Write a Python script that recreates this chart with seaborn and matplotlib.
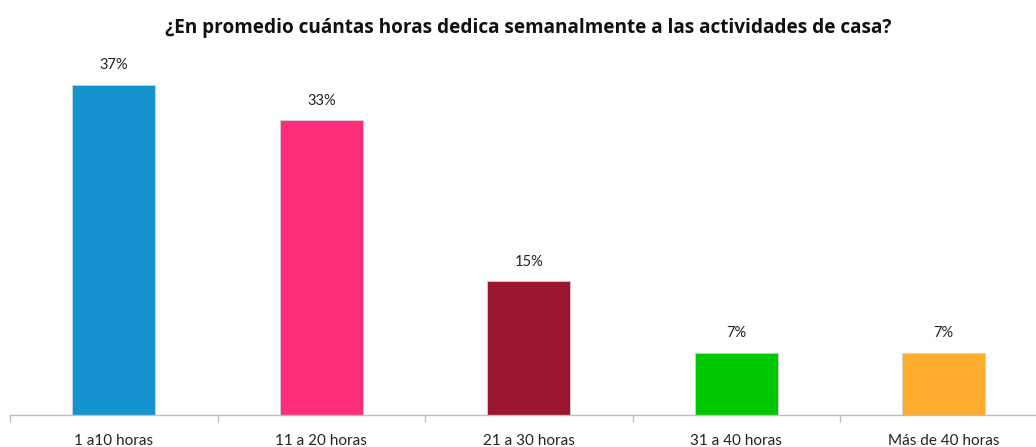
import matplotlib
matplotlib.use('Agg')
import matplotlib.pyplot as plt
import seaborn as sns
import pandas as pd

# Data

categories = ['1 a10 horas', '11 a 20 horas', '21 a 30 horas', '31 a 40 horas', 'Más de 40 horas']
values = [37, 33, 15, 7, 7]
colors = ['#1493CE', '#FF2D7A', '#9B1530', '#00C800', '#FFAD2F']

sns.set_style('white')
plt.rcParams['font.family'] = ['Lato', 'DejaVu Sans']

df = pd.DataFrame({'cat': categories, 'val': values})

fig = plt.figure(figsize=(10.36, 4.47), dpi=100)
ax = fig.add_axes([10 / 1036, 32 / 447, 1037.5 / 1036, 357 / 447])

sns.barplot(data=df, x='cat', y='val', hue='cat', palette=colors, legend=False,
            width=0.4, saturation=1, ax=ax, edgecolor='#D0D0D0', linewidth=0.6)

ax.set_xlim(-0.5, 4.5)
ax.set_ylim(0, 40)

# Value labels
for i, v in enumerate(values):
    ax.text(i, v + 1.4, '{}%'.format(v), ha='center', va='bottom', fontsize=10.5, color='#222222')

# Axes formatting
for s in ['top', 'right', 'left']:
    ax.spines[s].set_visible(False)
ax.spines['bottom'].set_color('#BFBFBF')
ax.spines['bottom'].set_linewidth(1)
ax.set_yticks([])
ax.set_xlabel('')
ax.set_ylabel('')

ax.set_xticks(range(len(categories)))
ax.set_xticklabels(categories, fontsize=11, color='#222222')
ax.tick_params(axis='x', which='major', length=0, pad=14)

# Tick marks between categories
ax.set_xticks([i - 0.5 for i in range(len(categories) + 1)], minor=True)
ax.tick_params(axis='x', which='minor', bottom=True, length=5, color='#BFBFBF', width=1, direction='out')

fig.text(528 / 1036, 1 - 28 / 447, '¿En promedio cuántas horas dedica semanalmente a las actividades de casa?',
         ha='center', va='center', fontsize=13.7, fontweight='bold', color='#111111',
         family=['Open Sans', 'DejaVu Sans'])

fig.savefig('out.png', dpi=100)
